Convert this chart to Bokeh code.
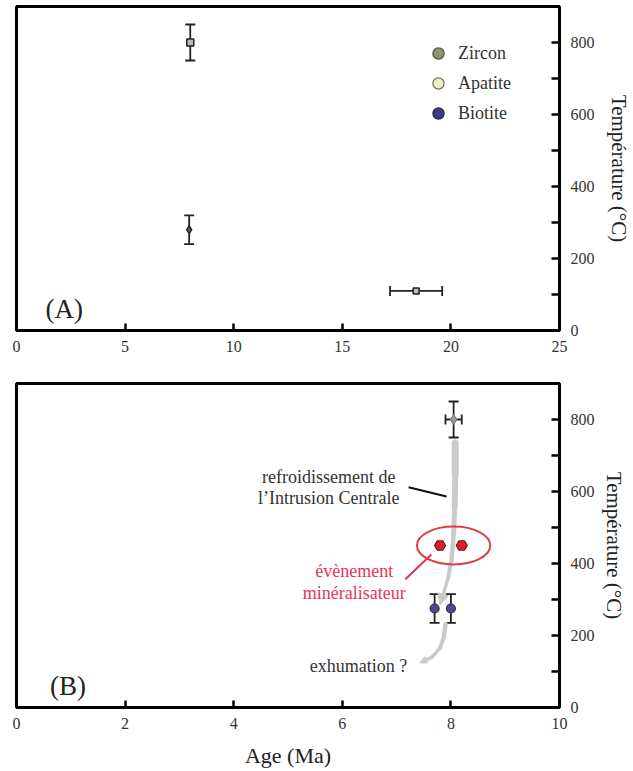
from bokeh.plotting import figure
from bokeh.models import (ColumnDataSource, Whisker, TeeHead, FixedTicker, Legend,
                          LegendItem, Label, Arrow, NormalHead, Range1d)
from bokeh.layouts import column
from bokeh.embed import file_html
from bokeh.resources import INLINE
from bokeh.core.properties import value

FONT = "Liberation Serif"

# ---------------- data ----------------
# Panel A
a_sq_x = [8.0]
a_sq_y = [800]
a_sq_yerr = [50]
a_dia_x = [7.95]
a_dia_y = [280]
a_dia_yerr = [40]
a_h_x = [18.4]
a_h_y = [110]
a_h_xerr = [1.2]
legend_names = ["Zircon", "Apatite", "Biotite"]
legend_colors = ["#8a9470", "#eeeec2", "#3c3c86"]
legend_lines = ["#4d5540", "#707060", "#22224a"]
a_xticks = [0, 5, 10, 15, 20, 25]

# Panel B
b_gray_x = [8.05]
b_gray_y = [800]
b_gray_xerr = [0.15]
b_gray_yerr = [50]
b_red_x = [7.8, 8.2]
b_red_y = [450, 450]
b_blue_x = [7.7, 8.0]
b_blue_y = [275, 275]
b_blue_yerr = [40, 40]
b_xticks = [0, 2, 4, 6, 8, 10]

y_major = [0, 200, 400, 600, 800]
y_minor = [100, 300, 500, 700]

# annotation paths (gray cooling arrow, exhumation arrow)
cool_x = [8.08, 8.08, 8.07, 8.05, 8.01, 7.95, 7.88]
cool_y = [735, 650, 560, 480, 410, 360, 325]
cool_w = [7, 6, 5, 4.5, 4, 3.5]
exh_x = [7.9, 7.87, 7.8, 7.65, 7.5]
exh_y = [232, 195, 165, 140, 128]
exh_w = [4.5, 4, 3.5, 3]

txt_dark_x = [5.75, 5.75, 6.3]
txt_dark_y = [641, 583, 114]
txt_dark = ["refroidissement de", "l\u2019Intrusion Centrale", "exhumation ?"]
txt_red_x = [6.22, 6.22]
txt_red_y = [378, 318]
txt_red = ["\u00e9v\u00e8nement", "min\u00e9ralisateur"]

GRAY = "#cacaca"
YMAX = 900


def make_fig(xmax, xticks, h, top, bottom, ylab_standoff, xlabel=None):
    p = figure(width=633, height=h,
               x_range=Range1d(0, xmax), y_range=Range1d(0, YMAX),
               y_axis_location="right", output_backend="svg",
               toolbar_location=None, min_border_left=16, min_border_right=71,
               min_border_top=top, min_border_bottom=bottom,
               background_fill_color="white", border_fill_color="white")
    p.grid.visible = False
    p.outline_line_color = "black"
    p.outline_line_width = 3
    p.outline_line_alpha = 1.0

    xa = p.xaxis[0]
    xa.ticker = FixedTicker(ticks=xticks)
    xa.axis_line_color = None
    xa.major_tick_in = 7
    xa.major_tick_out = 0
    xa.major_tick_line_width = 2.5
    xa.major_tick_line_color = "black"
    xa.minor_tick_line_color = None
    xa.major_label_text_font = FONT
    xa.major_label_text_font_size = "16px"
    xa.major_label_text_color = "#333333"
    xa.major_label_standoff = 10
    if xlabel:
        xa.axis_label = xlabel
        xa.axis_label_text_font = FONT
        xa.axis_label_text_font_size = "22px"
        xa.axis_label_text_font_style = "normal"
        xa.axis_label_text_color = "#222222"
        xa.axis_label_standoff = 11

    ya = p.yaxis[0]
    ya.ticker = FixedTicker(ticks=y_major, minor_ticks=y_minor)
    ya.axis_line_color = None
    ya.major_tick_in = 8
    ya.major_tick_out = 0
    ya.minor_tick_in = 8
    ya.minor_tick_out = 0
    ya.major_tick_line_width = 2.5
    ya.minor_tick_line_width = 2.5
    ya.major_tick_line_color = "black"
    ya.minor_tick_line_color = "black"
    ya.major_label_text_font = FONT
    ya.major_label_text_font_size = "16px"
    ya.major_label_text_color = "#333333"
    ya.major_label_standoff = 11
    ya.axis_label = "Temp\u00e9rature (\u00b0C)"
    ya.axis_label_text_font = FONT
    ya.axis_label_text_font_size = "21px"
    ya.axis_label_text_font_style = "normal"
    ya.axis_label_text_color = "#222222"
    ya.axis_label_standoff = ylab_standoff
    return p


def add_vwhisker(p, xs, ys, errs, color="#222222"):
    src = ColumnDataSource(dict(x=xs, lo=[y - e for y, e in zip(ys, errs)],
                                hi=[y + e for y, e in zip(ys, errs)]))
    w = Whisker(source=src, base="x", lower="lo", upper="hi", dimension="height",
                line_color=color, line_width=1.8,
                lower_head=TeeHead(size=10, line_color=color, line_width=1.8),
                upper_head=TeeHead(size=10, line_color=color, line_width=1.8))
    p.add_layout(w)


def add_hwhisker(p, xs, ys, errs, color="#222222"):
    src = ColumnDataSource(dict(y=ys, lo=[x - e for x, e in zip(xs, errs)],
                                hi=[x + e for x, e in zip(xs, errs)]))
    w = Whisker(source=src, base="y", lower="lo", upper="hi", dimension="width",
                line_color=color, line_width=1.8,
                lower_head=TeeHead(size=10, line_color=color, line_width=1.8),
                upper_head=TeeHead(size=10, line_color=color, line_width=1.8))
    p.add_layout(w)


# ---------------- Panel A ----------------
pa = make_fig(25, a_xticks, 373, 6, 43, 9)
add_vwhisker(pa, a_sq_x, a_sq_y, a_sq_yerr)
pa.scatter(a_sq_x, a_sq_y, marker="square", size=7, fill_color="#bbbbbb",
           line_color="#222222", line_width=1.5)
add_vwhisker(pa, a_dia_x, a_dia_y, a_dia_yerr)
pa.scatter(a_dia_x, a_dia_y, marker="diamond", size=8, fill_color="#555555",
           line_color="#222222", line_width=1.2)
add_hwhisker(pa, a_h_x, a_h_y, a_h_xerr)
pa.scatter(a_h_x, a_h_y, marker="square", size=6, fill_color="#bbbbbb",
           line_color="#222222", line_width=1.5)

items = []
for name, fc, lc in zip(legend_names, legend_colors, legend_lines):
    # a single off-range point so the legend has a glyph to draw
    r = pa.scatter([-50], [-50], marker="circle", size=11, fill_color=fc, line_color=lc,
                   line_width=1.2)
    items.append(LegendItem(label=name, renderers=[r]))
leg = Legend(items=items, location=(408, 203), padding=0, margin=0,
             border_line_color=None, background_fill_alpha=0,
             label_text_font=FONT, label_text_font_size="18px",
             label_text_color="#333333", glyph_width=28, glyph_height=28,
             label_standoff=6, spacing=2, label_height=20)
pa.add_layout(leg)
pa.add_layout(Label(x=2.2, y=61, text="(A)", text_font=FONT, text_font_size="27px",
                    text_align="center", text_baseline="middle", text_color="#222222"))

# ---------------- Panel B ----------------
pb = make_fig(10, b_xticks, 398, 10, 64, 4, xlabel="Age (Ma)")

pb.segment(x0=cool_x[:-1], y0=cool_y[:-1], x1=cool_x[1:], y1=cool_y[1:],
           line_width=cool_w, line_color=GRAY, line_cap="round")
pb.add_layout(Arrow(end=NormalHead(size=11, fill_color=GRAY, line_color=GRAY),
                    x_start=cool_x[-1], y_start=cool_y[-1], x_end=7.8, y_end=285,
                    line_color=GRAY, line_width=3.5))
pb.segment(x0=exh_x[:-1], y0=exh_y[:-1], x1=exh_x[1:], y1=exh_y[1:],
           line_width=exh_w, line_color=GRAY, line_cap="round")
pb.add_layout(Arrow(end=NormalHead(size=7, fill_color=GRAY, line_color=GRAY),
                    x_start=exh_x[-2], y_start=exh_y[-2], x_end=7.43, y_end=124,
                    line_color=GRAY, line_width=3))

add_vwhisker(pb, b_gray_x, b_gray_y, b_gray_yerr)
add_hwhisker(pb, b_gray_x, b_gray_y, b_gray_xerr)
pb.scatter(b_gray_x, b_gray_y, marker="diamond", size=10, fill_color="#999999",
           line_color="#777777", line_width=1)

add_vwhisker(pb, b_blue_x, b_blue_y, b_blue_yerr)
pb.scatter(b_blue_x, b_blue_y, marker="circle", size=9, fill_color="#4b4b8c",
           line_color="#2a2a55", line_width=1.2)

pb.scatter(b_red_x, b_red_y, marker="hex", size=11, fill_color="#d8202a",
           line_color="#7a1010", line_width=1.2)
pb.ellipse(x=[8.05], y=[450], width=[1.35], height=[105], fill_color=None,
           line_color="#e23a44", line_width=2)

pb.segment(x0=[7.22], y0=[612], x1=[7.92], y1=[586], line_color="#111111", line_width=2)
pb.segment(x0=[7.64], y0=[425], x1=[7.16], y1=[356], line_color="#e0305a", line_width=2)

pb.text(x=txt_dark_x, y=txt_dark_y, text=txt_dark, text_font=value(FONT),
        text_font_size="18px", text_align="center", text_baseline="middle",
        text_color="#333333")
pb.text(x=txt_red_x, y=txt_red_y, text=txt_red, text_font=value(FONT),
        text_font_size="18px", text_align="center", text_baseline="middle",
        text_color="#e8345a")
pb.add_layout(Label(x=0.95, y=61, text="(B)", text_font=FONT, text_font_size="27px",
                    text_align="center", text_baseline="middle", text_color="#222222"))

layout = column(pa, pb, spacing=0)
open("out.html", "w").write(file_html(layout, INLINE))
